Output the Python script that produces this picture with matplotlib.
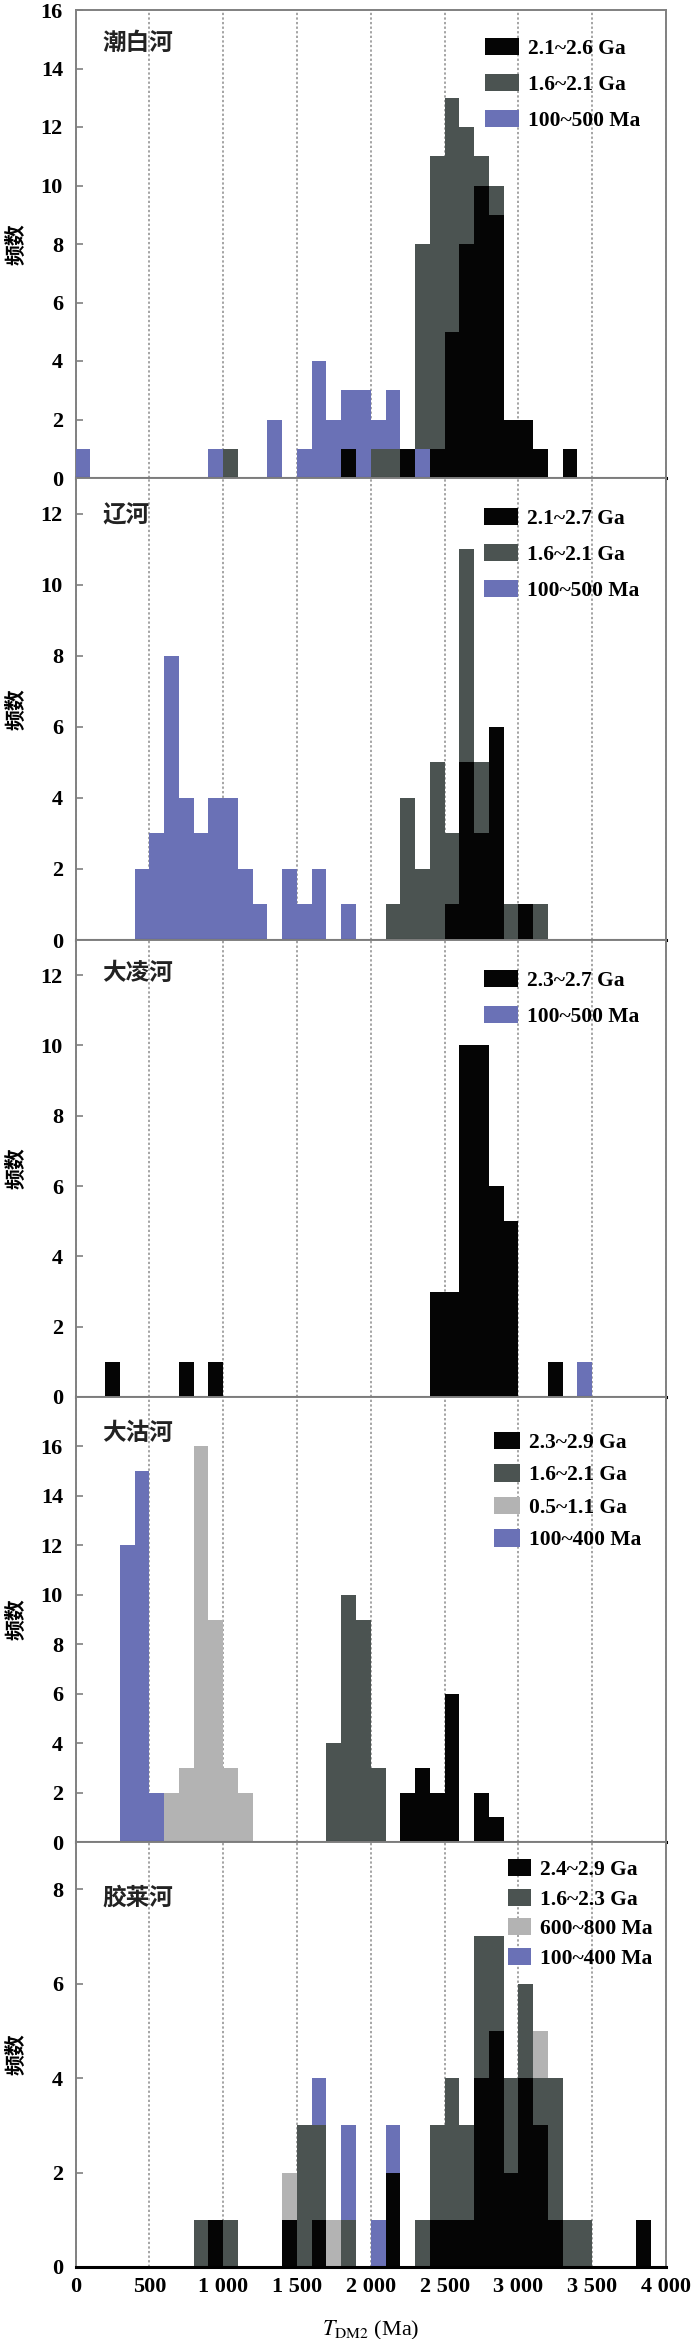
import numpy as np
import matplotlib
matplotlib.use("Agg")
import matplotlib.pyplot as plt
from matplotlib.patches import Patch

plt.rcParams['font.family'] = ['Liberation Serif', 'Noto Sans CJK SC']
plt.rcParams['mathtext.fontset'] = 'stix'

# bin width of the histograms (Ma); each entry is (bin start, count)
bin_width = 100

# 潮白河
chaobai_black = [(1800, 1), (2200, 1), (2400, 1), (2500, 5), (2600, 8), (2700, 10),
                 (2800, 9), (2900, 2), (3000, 2), (3100, 1), (3300, 1)]
chaobai_gray = [(1000, 1), (2000, 1), (2100, 1), (2300, 8), (2400, 11), (2500, 13),
                (2600, 12), (2700, 11), (2800, 10)]
chaobai_blue = [(0, 1), (900, 1), (1300, 2), (1500, 1), (1600, 4), (1700, 2), (1800, 3),
                (1900, 3), (2000, 2), (2100, 3), (2300, 1)]

# 辽河
liao_black = [(2500, 1), (2600, 5), (2700, 3), (2800, 6), (3000, 1)]
liao_gray = [(2100, 1), (2200, 4), (2300, 2), (2400, 5), (2500, 3), (2600, 11), (2700, 5),
             (2900, 1), (3100, 1)]
liao_blue = [(400, 2), (500, 3), (600, 8), (700, 4), (800, 3), (900, 4), (1000, 4),
             (1100, 2), (1200, 1), (1400, 2), (1500, 1), (1600, 2), (1800, 1)]

# 大凌河
daling_black = [(200, 1), (700, 1), (900, 1), (2400, 3), (2500, 3), (2600, 10), (2700, 10),
                (2800, 6), (2900, 5), (3200, 1)]
daling_blue = [(3400, 1)]

# 大沽河
dagu_black = [(2200, 2), (2300, 3), (2400, 2), (2500, 6), (2700, 2), (2800, 1)]
dagu_gray = [(1700, 4), (1800, 10), (1900, 9), (2000, 3)]
dagu_light = [(600, 2), (700, 3), (800, 16), (900, 9), (1000, 3), (1100, 2)]
dagu_blue = [(300, 12), (400, 15), (500, 2)]

# 胶莱河
jiaolai_black = [(900, 1), (1400, 1), (1600, 1), (2100, 2), (2400, 1), (2500, 1), (2600, 1),
                 (2700, 4), (2800, 5), (2900, 2), (3000, 4), (3100, 3), (3200, 1), (3800, 1)]
jiaolai_gray = [(800, 1), (1000, 1), (1500, 3), (1600, 3), (1800, 1), (2300, 1), (2400, 3),
                (2500, 4), (2600, 3), (2700, 7), (2800, 7), (2900, 4), (3000, 6), (3100, 4),
                (3200, 4), (3300, 1), (3400, 1)]
jiaolai_light = [(1400, 2), (1700, 1), (3100, 5)]
jiaolai_blue = [(1600, 4), (1800, 3), (2000, 1), (2100, 3)]

c_black = '#050505'
c_gray = '#4b5351'
c_light = '#b3b3b3'
c_blue = '#6a71b6'

# leg = (x offset px, y offset px, labelspacing, handlelength)
panels = [
    dict(name='潮白河', ymax=16, ytop=16, top=10, bottom=478, leg=(409, 28, 0.69, 1.6),
         series=[(chaobai_black, c_black, '2.1~2.6 Ga'), (chaobai_gray, c_gray, '1.6~2.1 Ga'),
                 (chaobai_blue, c_blue, '100~500 Ma')], label_dy=33),
    dict(name='辽河', ymax=13, ytop=12, top=478, bottom=940, leg=(408, 30, 0.69, 1.6),
         series=[(liao_black, c_black, '2.1~2.7 Ga'), (liao_gray, c_gray, '1.6~2.1 Ga'),
                 (liao_blue, c_blue, '100~500 Ma')], label_dy=37),
    dict(name='大凌河', ymax=13, ytop=12, top=940, bottom=1397, leg=(408, 30, 0.69, 1.6),
         series=[(daling_black, c_black, '2.3~2.7 Ga'), (daling_blue, c_blue, '100~500 Ma')],
         label_dy=33),
    dict(name='大沽河', ymax=18, ytop=16, top=1397, bottom=1842, leg=(418, 35, 0.53, 1.25),
         series=[(dagu_black, c_black, '2.3~2.9 Ga'), (dagu_gray, c_gray, '1.6~2.1 Ga'),
                 (dagu_light, c_light, '0.5~1.1 Ga'), (dagu_blue, c_blue, '100~400 Ma')],
         label_dy=36),
    dict(name='胶莱河', ymax=9, ytop=8, top=1842, bottom=2267, leg=(432, 17, 0.40, 1.1),
         series=[(jiaolai_black, c_black, '2.4~2.9 Ga'), (jiaolai_gray, c_gray, '1.6~2.3 Ga'),
                 (jiaolai_light, c_light, '600~800 Ma'), (jiaolai_blue, c_blue, '100~400 Ma')],
         label_dy=56),
]

W, H = 700, 2339
left_px, right_px = 75.5, 666
fig = plt.figure(figsize=(W / 100, H / 100), dpi=100)

xticks = np.arange(0, 4001, 500)
xlabels = ['0', '500', '1 000', '1 500', '2 000', '2 500', '3 000', '3 500', '4 000']
spine_col = '#808080'

for i, p in enumerate(panels):
    ax_h = p['bottom'] - p['top']
    ax_w = right_px - left_px
    ax = fig.add_axes([left_px / W, (H - p['bottom']) / H, ax_w / W, ax_h / H])

    handles = []
    for data, col, lab in p['series']:
        xs = [b for b, _ in data]
        hs = [c for _, c in data]
        bars = ax.bar(xs, hs, width=bin_width, align='edge', color=col, linewidth=0)
        # taller bars go behind shorter ones in the same bin
        for patch, h in zip(bars.patches, hs):
            patch.set_zorder(3 + 20 - h)
        handles.append(Patch(facecolor=col, edgecolor='none', label=lab))

    ax.axhline(0, color='black', lw=2.2, zorder=30, clip_on=False)
    ax.set_xlim(0, 4000)
    ax.set_ylim(0, p['ymax'])
    ax.set_xticks(xticks)
    ax.set_yticks(np.arange(0, p['ytop'] + 0.1, 2))
    ax.xaxis.grid(True, linestyle=(0, (1.5, 1.5)), color='#8c8c8c', lw=1.1, zorder=1)
    ax.set_axisbelow(True)
    for s in ax.spines.values():
        s.set_color(spine_col)
        s.set_linewidth(1.4)

    ax.tick_params(axis='y', direction='in', length=5, width=1.2, color=spine_col,
                   labelsize=16, pad=9)
    for t in ax.get_yticklabels():
        t.set_fontweight('bold')
    if i == len(panels) - 1:
        ax.set_xticklabels(xlabels, fontweight='bold')
        ax.tick_params(axis='x', length=0, labelsize=16, pad=7)
        ax.set_xlabel(r'$T_{\mathrm{DM2}}$ (Ma)', fontsize=16)
        ax.xaxis.set_label_coords(0.5, -52 / ax_h, transform=ax.transAxes)
    else:
        ax.tick_params(axis='x', length=0, labelbottom=False)

    ax.set_ylabel('频数', fontsize=15, fontweight='bold', family=['Noto Sans CJK SC'])
    ax.yaxis.set_label_coords(-50 / ax_w, 0.5)

    ax.annotate(p['name'], xy=(0, 1), xycoords='axes fraction',
                xytext=(27, -p['label_dy']), textcoords='offset pixels',
                ha='left', va='center', fontsize=17, fontweight='bold',
                family=['Noto Sans CJK SC'], color='#222222', zorder=40)

    dx, dy, ls, hl = p['leg']
    ax.legend(handles=handles, loc='upper left', frameon=False,
              prop={'size': 15.5, 'weight': 'bold'},
              bbox_to_anchor=(dx / ax_w, 1 - dy / ax_h), borderpad=0, borderaxespad=0,
              handlelength=hl, handleheight=0.85, handletextpad=0.4, labelspacing=ls)

fig.savefig('out.png', dpi=100)
